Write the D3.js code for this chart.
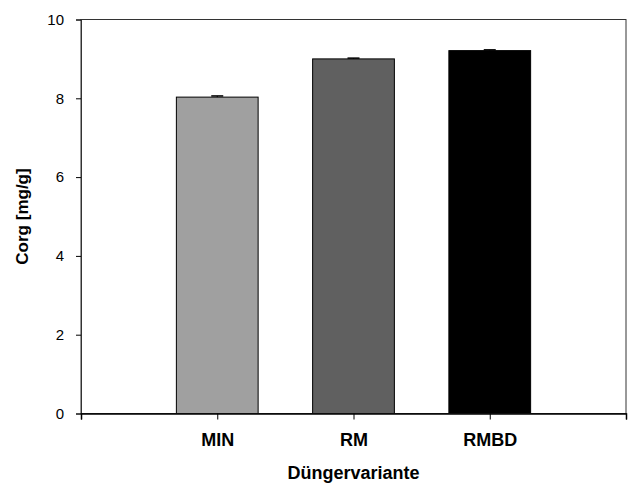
<!DOCTYPE html>
<html><head><meta charset="utf-8">
<script src="https://cdn.jsdelivr.net/npm/d3@7/dist/d3.min.js"></script>
<style>body{margin:0;background:#fff}svg{display:block}text{font-family:"Liberation Sans",Arial,sans-serif}</style>
</head><body>
<script>
const categories = ["MIN", "RM", "RMBD"];
const values = [8.03, 9.0, 9.21];
const errors = [0.03, 0.02, 0.02];
const colors = ["#a0a0a0", "#606060", "#000000"];
const yTicks = [0, 2, 4, 6, 8, 10];
const xTitle = "Düngervariante";
const yTitle = "Corg [mg/g]";

const W = 629, H = 484;
const m = {l: 81, r: 3, t: 19.5, b: 70.5};
const svg = d3.select("body").append("svg").attr("width", W).attr("height", H);

const x = d3.scaleLinear().domain([0, categories.length + 1]).range([m.l, W - m.r]);
const y = d3.scaleLinear().domain([0, 10]).range([H - m.b, m.t]);
const bw = (x(1) - x(0)) * 0.6;

const g = svg.append("g");
g.selectAll("rect.bar").data(values).join("rect")
  .attr("x", (d, i) => x(i + 1) - bw / 2)
  .attr("y", d => y(d))
  .attr("width", bw)
  .attr("height", d => y(0) - y(d))
  .attr("fill", (d, i) => colors[i])
  .attr("stroke", "#000").attr("stroke-width", 1);
values.forEach((v, i) => {
  const cx = x(i + 1);
  g.append("line").attr("x1", cx).attr("x2", cx).attr("y1", y(v)).attr("y2", y(v + errors[i])).attr("stroke", "#000");
  g.append("line").attr("x1", cx - 6).attr("x2", cx + 6).attr("y1", y(v + errors[i])).attr("y2", y(v + errors[i])).attr("stroke", "#000").attr("stroke-width", 1.5);
});

svg.append("rect").attr("x", m.l).attr("y", m.t).attr("width", W - m.r - m.l).attr("height", y(0) - m.t)
  .attr("fill", "none").attr("stroke", "#333").attr("stroke-width", 1);

const yAxis = svg.append("g").attr("transform", `translate(${m.l},0)`)
  .call(d3.axisLeft(y).tickValues(yTicks).tickSize(5).tickPadding(12));
yAxis.select(".domain").attr("stroke", "#333");
yAxis.selectAll("text").attr("font-size", 15).attr("fill", "#000");

const xAxis = svg.append("g").attr("transform", `translate(0,${y(0)})`)
  .call(d3.axisBottom(x).tickValues(d3.range(0, categories.length + 2)).tickSize(6)
    .tickFormat(d => categories[d - 1] || ""));
xAxis.select(".domain").attr("stroke", "#000").attr("stroke-width", 1.5);
xAxis.selectAll("text").attr("dy", null).attr("y", 32.5)
  .attr("font-size", 18).attr("font-weight", "bold").attr("fill", "#000");

svg.append("text").attr("x", x(2)).attr("y", 479).attr("text-anchor", "middle")
  .attr("font-size", 18).attr("font-weight", "bold").text(xTitle);
svg.append("text").attr("transform", `translate(28,${(m.t + y(0)) / 2}) rotate(-90)`)
  .attr("text-anchor", "middle").attr("font-size", 17).attr("font-weight", "bold").text(yTitle);
</script>
</body></html>
